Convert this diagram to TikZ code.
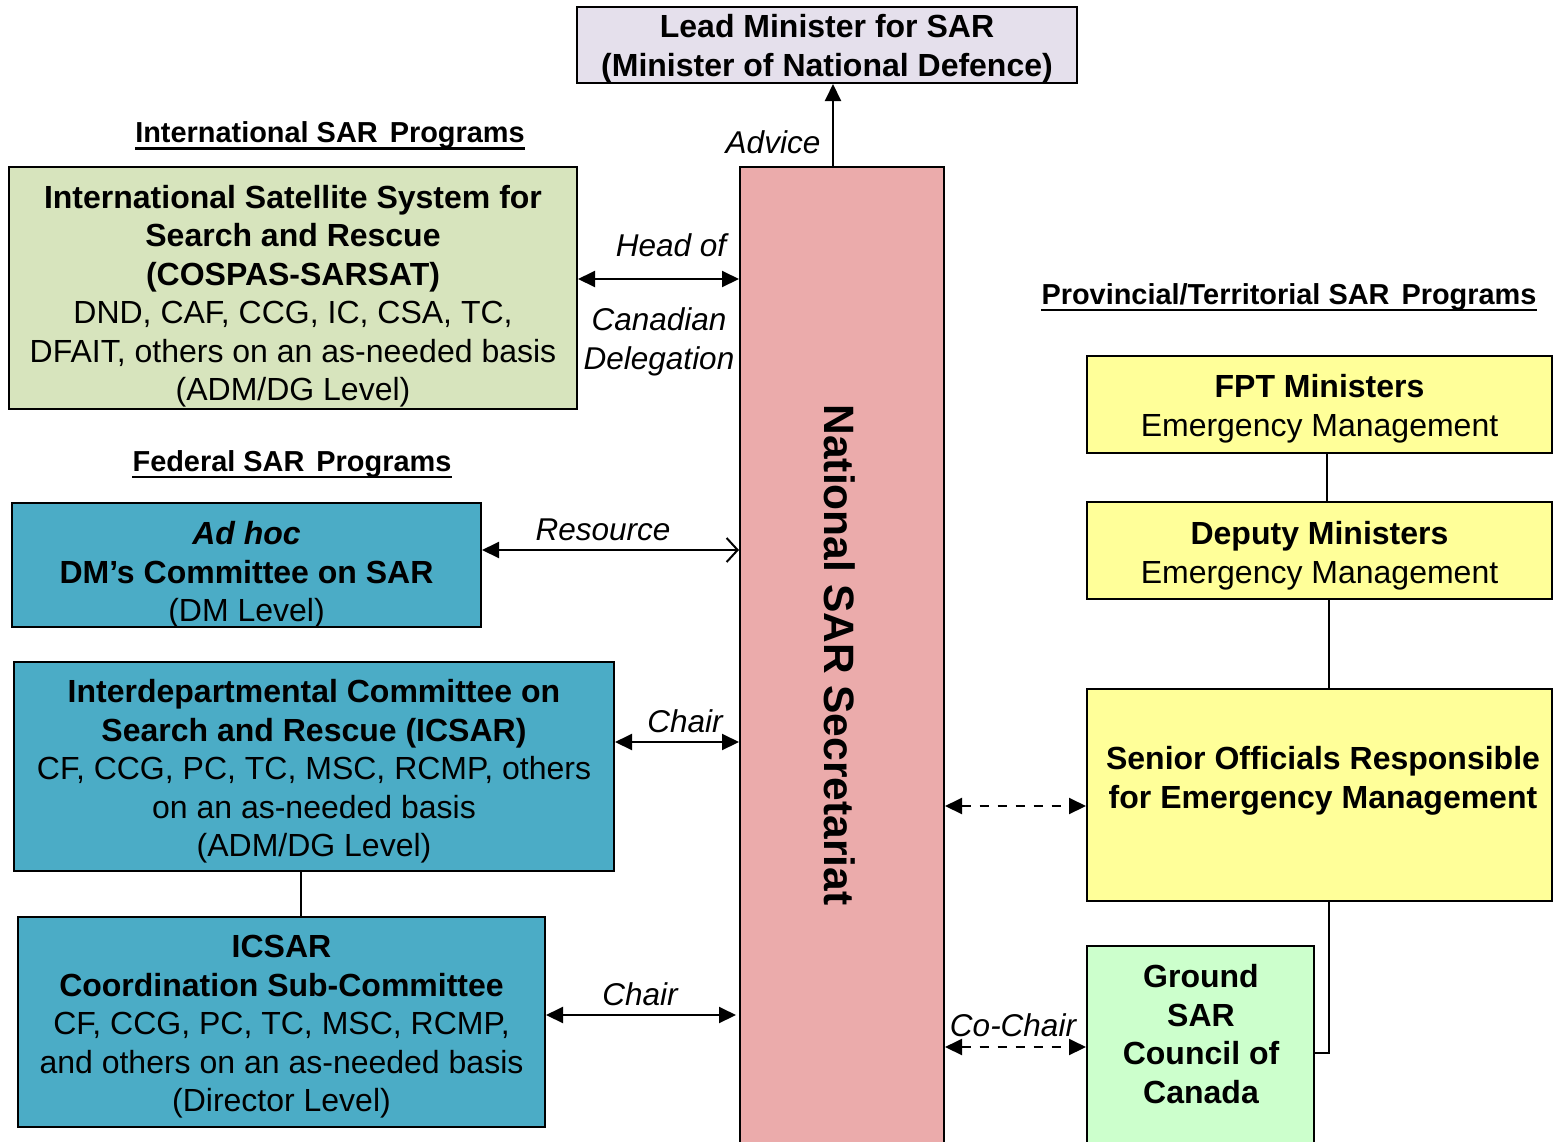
\documentclass[tikz,border=0pt]{standalone}
\usepackage{fontspec}
\setmainfont{Liberation Sans}
\usetikzlibrary{arrows.meta,calc}
\definecolor{lav}{HTML}{E5E0EC}
\definecolor{rose}{HTML}{EBABAB}
\definecolor{isgreen}{HTML}{D7E4BD}
\definecolor{fedblue}{HTML}{4BACC6}
\definecolor{provyellow}{HTML}{FFFF99}
\definecolor{gsgreen}{HTML}{CCFFCC}
\tikzset{
  box/.style={draw=black, line width=2pt, inner sep=0pt},
  txt/.style={align=center, inner sep=0pt, font=\fontsize{32}{38.5}\selectfont},
  lbl/.style={align=center, inner sep=0pt, font=\fontsize{31.5}{39}\selectfont\itshape},
  head/.style={inner sep=0pt, font=\fontsize{28.9}{34}\selectfont\bfseries},
  ul/.style={line width=2.8pt},
  conn/.style={line width=2pt},
  bothtip/.style={conn, {Triangle[length=17pt,width=16pt]}-{Triangle[length=17pt,width=16pt]}},
}
\begin{document}
\begin{tikzpicture}[x=1pt,y=-1pt]
\useasboundingbox (0,0) rectangle (1553,1141);
\clip (0,0) rectangle (1553,1141);
\fill[white] (0,0) rectangle (1553,1141);

% boxes
\node[box, fill=lav, minimum width=500pt, minimum height=76pt] (lead) at (827,45) {};
\node[txt] (leadtext) at ([yshift=-3.5pt]lead.center)
  {\textbf{Lead Minister for SAR}\\\textbf{(Minister of National Defence)}};
\node[box, fill=rose, minimum width=204pt, minimum height=1000pt] (nss) at (842,667) {};
\node[inner sep=0pt, rotate=-90, font=\fontsize{42.5}{48}\selectfont\bfseries] (nsstext) at (840,655)
  {National SAR Secretariat};

\node[box, fill=isgreen, minimum width=568pt, minimum height=242pt] (iss) at (293,288) {};
\node[txt] (isstext) at ([yshift=-8pt]iss.center)
  {\textbf{International Satellite System for}\\\textbf{Search and Rescue}\\\textbf{(COSPAS-SARSAT)}\\
   DND, CAF, CCG, IC, CSA, TC,\\DFAIT, others on an as-needed basis\\(ADM/DG Level)};
\node[box, fill=fedblue, minimum width=469pt, minimum height=124pt] (dm) at (246.5,565) {};
\node[txt] (dmtext) at ([yshift=-10pt]dm.center)
  {\textbf{\textit{Ad hoc}}\\\textbf{DM’s Committee on SAR}\\(DM Level)};
\node[box, fill=fedblue, minimum width=600pt, minimum height=209pt] (icsar) at (314,766.5) {};
\node[txt] (icsartext) at ([yshift=-5pt]icsar.center)
  {\textbf{Interdepartmental Committee on}\\\textbf{Search and Rescue (ICSAR)}\\
   CF, CCG, PC, TC, MSC, RCMP, others\\on an as-needed basis\\(ADM/DG Level)};
\node[box, fill=fedblue, minimum width=527pt, minimum height=210pt] (sub) at (281.5,1022) {};
\node[txt] (subtext) at ([yshift=-5pt]sub.center)
  {\textbf{ICSAR}\\\textbf{Coordination Sub-Committee}\\
   CF, CCG, PC, TC, MSC, RCMP,\\and others on an as-needed basis\\(Director Level)};

\node[box, fill=provyellow, minimum width=465pt, minimum height=97pt] (fpt) at (1319.5,404.5) {};
\node[txt] (fpttext) at ([yshift=-4pt]fpt.center)
  {\textbf{FPT Ministers}\\Emergency Management};
\node[box, fill=provyellow, minimum width=465pt, minimum height=97pt] (dep) at (1319.5,550.5) {};
\node[txt] (deptext) at ([yshift=-5pt]dep.center)
  {\textbf{Deputy Ministers}\\Emergency Management};
\node[box, fill=provyellow, minimum width=465pt, minimum height=212pt] (sen) at (1319.5,795) {};
\node[txt, font=\fontsize{32}{38.5}\selectfont\bfseries] (sentext) at (1323,781)
  {Senior Officials Responsible\\for Emergency Management};
\node[box, fill=gsgreen, minimum width=227pt, minimum height=214pt] (grd) at (1200.5,1053) {};
\node[txt, font=\fontsize{32}{38.5}\selectfont\bfseries] (grdtext) at (1201,1034)
  {Ground\\SAR\\Council of\\Canada};

% headings
\node[head] (hint) at (330,135.5) {International SAR\hspace{4pt} Programs};
\node[head] (hfed) at (292,464) {Federal SAR\hspace{4pt} Programs};
\node[head] (hprov) at (1289,297) {Provincial/Territorial SAR\hspace{4pt} Programs};
\draw[ul] ([yshift=-5.5pt]hint.base west) -- ([yshift=-5.5pt]hint.base east);
\draw[ul] ([yshift=-5.5pt]hfed.base west) -- ([yshift=-5.5pt]hfed.base east);
\draw[ul] ([yshift=-5.5pt]hprov.base west) -- ([yshift=-5.5pt]hprov.base east);

% connectors
\draw[conn, -{Triangle[length=17pt,width=16pt]}] ([xshift=-9pt]nss.north) -- ([xshift=-9pt]nss.north |- lead.south);
\node[lbl] (advice) at (773,142) {Advice};

\draw[bothtip] ([yshift=9pt]iss.east) -- ([yshift=9pt]iss.east -| nss.west);
\node[lbl] (headof) at (671,245) {Head of};
\node[lbl] (deleg) at (659,342) {Canadian\\Delegation};

\draw[conn, {Triangle[length=17pt,width=16pt]}-{Straight Barb[length=11pt,width=24pt]}] ([yshift=15pt]dm.east) -- ([yshift=15pt]dm.east -| nss.west);
\node[lbl] (resource) at (603,530) {Resource};

\draw[bothtip] ([yshift=24.5pt]icsar.east) -- ([yshift=24.5pt]icsar.east -| nss.west);
\node[lbl] (chair1) at (685,721) {Chair};

\draw[bothtip] ([yshift=7pt]sub.east) -- ([yshift=7pt,xshift=-3pt]sub.east -| nss.west);
\node[lbl] (chair2) at (640,994) {Chair};

\draw[bothtip, dash pattern=on 9pt off 9pt] ([yshift=-11pt]sen.west -| nss.east) -- ([yshift=-11pt]sen.west);
\draw[bothtip, dash pattern=on 9pt off 9pt] ([yshift=6pt]grd.west -| nss.east) -- ([yshift=6pt]grd.west);
\node[lbl] (cochair) at (1013,1025) {Co-Chair};

\draw[conn] ([xshift=7pt]fpt.south) -- ([xshift=7pt]dep.north);
\draw[conn] ([xshift=9pt]dep.south) -- ([xshift=9pt]sen.north);
\draw[conn] ([xshift=9.5pt]sen.south) |- (grd.east);
\draw[conn] ([xshift=-13pt]icsar.south) -- ([xshift=-13pt]icsar.south |- sub.north);
\end{tikzpicture}
\end{document}
